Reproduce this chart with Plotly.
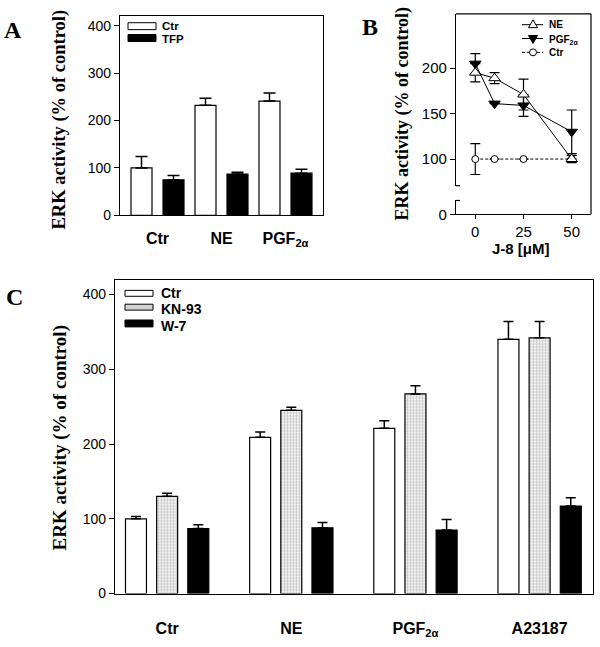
import plotly.graph_objects as go

W, H = 600, 647


def px(x):
    return x / W


def py(y):
    return 1 - y / H


# ---------------- Panel A data ----------------
a_groups = ["Ctr", "NE", "PGF<sub>2α</sub>"]
a_ctr = [100, 232, 241]
a_ctr_err = [24, 15, 17]
a_tfp = [75, 87, 89]
a_tfp_err = [9, 4, 8]

# ---------------- Panel B data ----------------
b_conc = [0, 10, 25, 50]
b_ne = [195, 189, 171, 100]
b_ne_err = [10, 6, 17, 4]
b_pgf = [205, 161, 159, 130]
b_pgf_err = [11, 0, 12, 24]
b_ctr = [100, 100, 100, 100]
b_ctr_err = [17, 0, 0, 0]

# ---------------- Panel C data ----------------
c_groups = ["Ctr", "NE", "PGF<sub>2α</sub>", "A23187"]
c_ctr = [100, 209, 221, 340]
c_ctr_err = [3, 7, 10, 24]
c_kn = [130, 245, 267, 342]
c_kn_err = [4, 4, 11, 22]
c_w7 = [87, 88, 85, 117]
c_w7_err = [5, 7, 14, 11]

SANS = "Liberation Sans"
SERIF = "Liberation Serif"
LINE = dict(color="black", width=1.2)


def up_err(arr, w=6):
    return dict(type="data", array=arr, arrayminus=[0] * len(arr), symmetric=False,
                color="black", thickness=1.5, width=w)


fig = go.Figure()

# Panel A bars
fig.add_trace(go.Bar(x=a_groups, y=a_ctr, width=0.328, offset=-0.414,
                     marker=dict(color="white", line=LINE), error_y=up_err(a_ctr_err),
                     xaxis="x", yaxis="y", showlegend=False, name="Ctr"))
fig.add_trace(go.Bar(x=a_groups, y=a_tfp, width=0.328, offset=0.086,
                     marker=dict(color="black", line=LINE), error_y=up_err(a_tfp_err),
                     xaxis="x", yaxis="y", showlegend=False, name="TFP"))

# Panel B lines
fig.add_trace(go.Scatter(x=b_conc, y=b_ctr, mode="lines+markers", name="Ctr",
                         line=dict(color="black", width=1, dash="3px,2px"),
                         marker=dict(symbol="circle", size=7, color="white",
                                     line=dict(color="black", width=1)),
                         error_y=dict(type="data", array=b_ctr_err, color="black",
                                      thickness=1.2, width=5),
                         xaxis="x2", yaxis="y2", showlegend=False))
fig.add_trace(go.Scatter(x=b_conc, y=b_pgf, mode="lines+markers", name="PGF2α",
                         line=dict(color="black", width=1),
                         marker=dict(symbol="triangle-down", size=10, color="black",
                                     line=dict(color="black", width=1)),
                         error_y=dict(type="data", array=b_pgf_err, color="black",
                                      thickness=1.2, width=5),
                         xaxis="x2", yaxis="y2", showlegend=False))
fig.add_trace(go.Scatter(x=b_conc, y=b_ne, mode="lines+markers", name="NE",
                         line=dict(color="black", width=1),
                         marker=dict(symbol="triangle-up", size=10, color="white",
                                     line=dict(color="black", width=1)),
                         error_y=dict(type="data", array=b_ne_err, color="black",
                                      thickness=1.2, width=5),
                         xaxis="x2", yaxis="y2", showlegend=False))
# empty trace so the lower broken-axis segment exists
fig.add_trace(go.Scatter(x=[], y=[], xaxis="x2", yaxis="y3", showlegend=False))

# Panel C bars
fig.add_trace(go.Bar(x=c_groups, y=c_ctr, width=0.169, offset=-0.3355,
                     marker=dict(color="white", line=LINE), error_y=up_err(c_ctr_err, 5),
                     xaxis="x3", yaxis="y4", showlegend=False, name="Ctr"))
fig.add_trace(go.Bar(x=c_groups, y=c_kn, width=0.169, offset=-0.0845,
                     marker=dict(color="#eeeeee", line=LINE,
                                 pattern=dict(shape="+", bgcolor="#f2f2f2", fgcolor="#8a8a8a",
                                              size=3, solidity=0.35)),
                     error_y=up_err(c_kn_err, 5),
                     xaxis="x3", yaxis="y4", showlegend=False, name="KN-93"))
fig.add_trace(go.Bar(x=c_groups, y=c_w7, width=0.169, offset=0.1665,
                     marker=dict(color="black", line=LINE), error_y=up_err(c_w7_err, 5),
                     xaxis="x3", yaxis="y4", showlegend=False, name="W-7"))

tickfont = dict(family=SANS, size=14, color="black")
tickfont_b = dict(family=SANS, size=15, color="black")
catfont = dict(family=SANS, size=16, color="black", weight="bold")

fig.update_layout(
    width=W, height=H, margin=dict(l=0, r=0, t=0, b=0),
    paper_bgcolor="white", plot_bgcolor="white", barmode="overlay",
    xaxis=dict(domain=[px(120), px(323)], range=[-0.586, 2.586], type="category",
               showline=True, mirror=True, linecolor="black", linewidth=1.2,
               ticks="outside", ticklen=8, tickcolor="rgba(0,0,0,0)",
               tickfont=catfont, showgrid=False, zeroline=False, anchor="y"),
    yaxis=dict(domain=[py(218), py(16)], range=[0, 421], tickvals=[0, 100, 200, 300, 400],
               showline=True, mirror=True, linecolor="black", linewidth=1.2,
               ticks="outside", ticklen=5, tickcolor="black", tickfont=tickfont,
               showgrid=False, zeroline=False, anchor="x"),
    xaxis2=dict(domain=[px(456), px(591)], range=[-10, 60], tickvals=[0, 25, 50],
                showline=True, linecolor="black", linewidth=1.2,
                ticks="outside", ticklen=4, tickcolor="black", tickfont=tickfont_b,
                showgrid=False, zeroline=False, anchor="y3"),
    yaxis2=dict(domain=[py(188), py(14)], range=[70.7, 259.8], tickvals=[100, 150, 200],
                showline=True, linecolor="black", linewidth=1.2,
                ticks="outside", ticklen=5, tickcolor="black", tickfont=tickfont_b,
                showgrid=False, zeroline=False, anchor="x2"),
    yaxis3=dict(domain=[py(217), py(203)], range=[0, 15.2], tickvals=[0],
                showline=True, linecolor="black", linewidth=1.2,
                ticks="outside", ticklen=5, tickcolor="black", tickfont=tickfont_b,
                showgrid=False, zeroline=False, anchor="x2"),
    xaxis3=dict(domain=[px(115), px(593)], range=[-0.42, 3.43], type="category",
                showline=True, mirror=True, linecolor="black", linewidth=1.2,
                ticks="outside", ticklen=20, tickcolor="rgba(0,0,0,0)",
                tickfont=catfont, showgrid=False, zeroline=False, anchor="y4"),
    yaxis4=dict(domain=[py(601), py(283)], range=[0, 420], tickvals=[0, 100, 200, 300, 400],
                showline=True, mirror=True, linecolor="black", linewidth=1.2,
                ticks="outside", ticklen=5, tickcolor="black", tickfont=tickfont,
                showgrid=False, zeroline=False, anchor="x3"),
)

shapes = []
annos = []


def line(x0, y0, x1, y1, width=1.2, dash="solid"):
    shapes.append(dict(type="line", xref="paper", yref="paper",
                       x0=px(x0), y0=py(y0), x1=px(x1), y1=py(y1),
                       line=dict(color="black", width=width, dash=dash)))


def rect(x0, y0, x1, y1, fill):
    shapes.append(dict(type="rect", xref="paper", yref="paper",
                       x0=px(x0), y0=py(y0), x1=px(x1), y1=py(y1),
                       fillcolor=fill, line=dict(color="black", width=1)))


def text(x, y, s, size, family=SANS, bold=True, xanchor="left", angle=0):
    annos.append(dict(x=px(x), y=py(y), xref="paper", yref="paper", text=s,
                      showarrow=False, xanchor=xanchor, yanchor="middle", textangle=angle,
                      font=dict(family=family, size=size, color="black",
                                weight="bold" if bold else "normal")))


def poly(pts, fill):
    path = "M " + " L ".join(f"{px(x)} {py(y)}" for x, y in pts) + " Z"
    shapes.append(dict(type="path", xref="paper", yref="paper", path=path,
                       fillcolor=fill, line=dict(color="black", width=1)))


# Panel B frame and axis break
line(456, 14, 591, 14)
line(591, 14, 591, 217)
line(456, 188, 460, 188)
line(456, 203, 460, 203)

# Legend A
rect(128, 23, 156, 30, "white")
rect(128, 35, 156, 42, "black")
text(160, 26.5, "Ctr", 11.5)
text(160, 39.5, "TFP", 11.5)

# Legend C
rect(125, 294, 153, 300, "white")
rect(125, 308, 153, 314, "#d4d4d4")
rect(125, 324, 153, 331, "black")
text(159, 297, "Ctr", 14)
text(159, 313, "KN-93", 14)
text(159, 330, "W-7", 14)

# Legend B
line(522, 25, 543, 25, width=1)
poly([(528.5, 28), (537.5, 28), (533, 20)], "white")
line(522, 39, 543, 39, width=1)
poly([(528.5, 36), (537.5, 36), (533, 44)], "black")
line(522, 53, 543, 53, width=1, dash="3px,2px")
shapes.append(dict(type="circle", xref="paper", yref="paper",
                   x0=px(529.5), x1=px(536.5), y0=py(56.5), y1=py(49.5),
                   fillcolor="white", line=dict(color="black", width=1)))
text(547, 25, "NE", 10)
text(547, 40, "PGF<sub>2α</sub>", 10)
text(547, 53, "Ctr", 10)

# Panel letters
text(13, 30, "A", 24, family=SERIF, xanchor="center")
text(370, 27, "B", 24, family=SERIF, xanchor="center")
text(14, 301, "C", 24, family=SERIF, xanchor="center")

# Y titles
text(60, 121, "ERK activity (% of control)", 18.5, family=SERIF, xanchor="center", angle=-90)
text(403, 115, "ERK activity (% of control)", 18, family=SERIF, xanchor="center", angle=-90)
text(60, 443, "ERK activity (% of control)", 19, family=SERIF, xanchor="center", angle=-90)

# B x title
text(521, 252, "J-8 [μM]", 15, xanchor="center")

fig.update_layout(shapes=shapes, annotations=annos)
fig.write_html("out.html", config={"displayModeBar": False},
               post_script="document.body.style.margin='0';document.body.style.overflow='hidden';")
